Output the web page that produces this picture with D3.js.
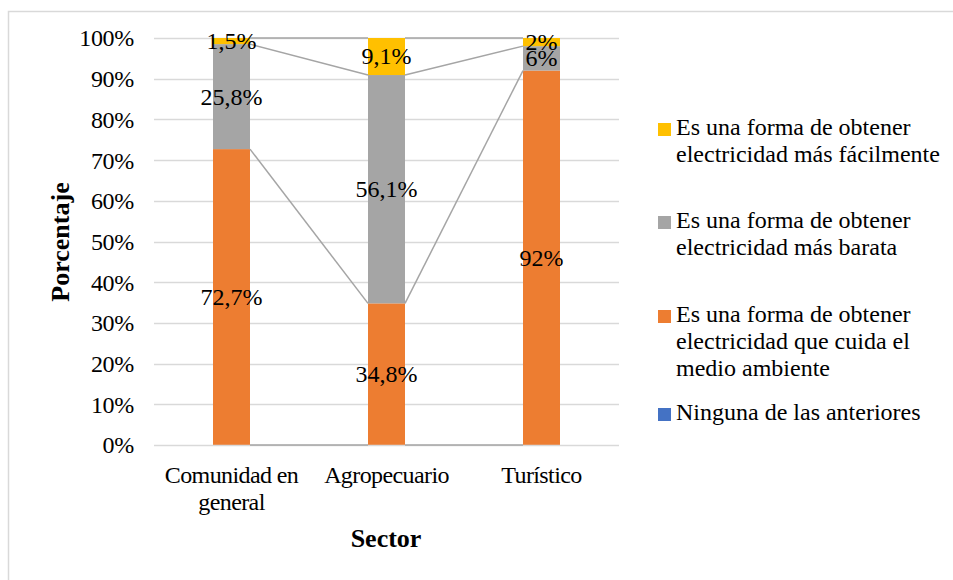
<!DOCTYPE html>
<html>
<head>
<meta charset="utf-8">
<script src="https://cdn.jsdelivr.net/npm/d3@7"></script>
<style>
  html, body { margin: 0; padding: 0; background: #fff; }
</style>
</head>
<body>
<svg id="chart" width="953" height="580"></svg>
<script>
// ---- data ----
const categories = ["Comunidad en general", "Agropecuario", "Turístico"];
const categoryLines = [["Comunidad en", "general"], ["Agropecuario"], ["Turístico"]];
const seriesNames = [
  "Ninguna de las anteriores",
  "Es una forma de obtener electricidad que cuida el medio ambiente",
  "Es una forma de obtener electricidad más barata",
  "Es una forma de obtener electricidad más fácilmente"
];
const legendLines = [
  ["Ninguna de las anteriores"],
  ["Es una forma de obtener", "electricidad que cuida el", "medio ambiente"],
  ["Es una forma de obtener", "electricidad más barata"],
  ["Es una forma de obtener", "electricidad más fácilmente"]
];
const ninguna     = [0, 0, 0];
const medioAmb    = [72.7, 34.8, 92];
const barata      = [25.8, 56.1, 6];
const facilmente  = [1.5, 9.1, 2];
const labelText = [
  [null, null, null],
  ["72,7%", "34,8%", "92%"],
  ["25,8%", "56,1%", "6%"],
  ["1,5%", "9,1%", "2%"]
];
const colors = ["#4472C4", "#ED7D31", "#A5A5A5", "#FFC000"];
const yTicks = [0, 10, 20, 30, 40, 50, 60, 70, 80, 90, 100];

// ---- build table ----
const keys = ["ninguna", "medio", "barata", "facil"];
const table = categories.map((c, i) => ({
  cat: c, ninguna: ninguna[i], medio: medioAmb[i], barata: barata[i], facil: facilmente[i]
}));
const stacked = d3.stack().keys(keys)(table);

const FF = "'Liberation Serif'";
const svg = d3.select("#chart");

// outer chart border
svg.append("rect").attr("x", 8.5).attr("y", 11.5).attr("width", 1000).attr("height", 700)
  .attr("fill", "none").attr("stroke", "#d9d9d9").attr("stroke-width", 1.5);

const x = d3.scaleBand().domain(categories).range([154, 619])
  .paddingInner(1 - 37 / 155).paddingOuter((1 - 37 / 155) / 2);
const y = d3.scaleLinear().domain([0, 100]).range([445, 38]);

const font = 24;

function txt(sel, ls) {
  return sel.style("font-family", FF).style("font-size", font + "px")
    .style("letter-spacing", (ls || 0) + "px").attr("fill", "#000");
}

// gridlines
svg.append("g").selectAll("line").data(yTicks.filter(t => t > 0)).join("line")
  .attr("x1", 154).attr("x2", 619)
  .attr("y1", d => Math.round(y(d)) + 0.5).attr("y2", d => Math.round(y(d)) + 0.5)
  .attr("stroke", "#d9d9d9").attr("stroke-width", 1.3);

// y axis via d3 axis
const yAxis = d3.axisLeft(y).tickValues(yTicks).tickFormat(d => d + "%").tickSize(0).tickPadding(0);
const yg = svg.append("g").attr("transform", "translate(134,0)").call(yAxis);
yg.select(".domain").remove();
yg.attr("font-family", null).attr("font-size", null);
yg.selectAll("text").call(txt, -0.3).attr("dy", "0.33em");

// bars
const groups = svg.append("g").selectAll("g").data(stacked).join("g")
  .attr("fill", (d, i) => colors[i]);
groups.selectAll("rect").data(d => d).join("rect")
  .attr("x", d => x(d.data.cat))
  .attr("width", x.bandwidth())
  .attr("y", d => y(d[1]))
  .attr("height", d => y(d[0]) - y(d[1]));

// x axis baseline
svg.append("line").attr("x1", 154).attr("x2", 619)
  .attr("y1", y(0) + 0.5).attr("y2", y(0) + 0.5)
  .attr("stroke", "#d9d9d9").attr("stroke-width", 1.3);

// series lines (connect tops of each series between adjacent bars)
const sl = svg.append("g").attr("stroke", "#a5a5a5").attr("stroke-width", 1.5).attr("fill", "none");
stacked.forEach(s => {
  for (let i = 0; i < s.length - 1; i++) {
    sl.append("line")
      .attr("x1", x(s[i].data.cat) + x.bandwidth())
      .attr("y1", y(s[i][1]))
      .attr("x2", x(s[i + 1].data.cat))
      .attr("y2", y(s[i + 1][1]));
  }
});

// data labels
stacked.forEach((s, si) => {
  s.forEach((d, i) => {
    const t = labelText[si][i];
    if (!t) return;
    svg.append("text")
      .attr("x", x(d.data.cat) + x.bandwidth() / 2)
      .attr("y", y((d[0] + d[1]) / 2))
      .attr("dy", "0.33em")
      .attr("text-anchor", "middle")
      .call(txt, 0)
      .text(t);
  });
});

// category labels
categories.forEach((c, i) => {
  const t = svg.append("text")
    .attr("x", x(c) + x.bandwidth() / 2)
    .attr("y", 483)
    .attr("text-anchor", "middle")
    .call(txt, -0.6);
  categoryLines[i].forEach((ln, j) => {
    t.append("tspan").attr("x", x(c) + x.bandwidth() / 2).attr("dy", j === 0 ? 0 : 27).text(ln);
  });
});

// axis titles
svg.append("text").attr("x", 386).attr("y", 547).attr("text-anchor", "middle")
  .style("font-family", FF).style("font-size", "26px").style("font-weight", "bold")
  .attr("fill", "#000").text("Sector");
svg.append("text").attr("transform", "translate(69,242) rotate(-90)").attr("text-anchor", "middle")
  .style("font-family", FF).style("font-size", "26px").style("font-weight", "bold")
  .attr("fill", "#000").text("Porcentaje");

// legend (reverse order)
const legendTops = [135, 228, 322, 420];
const order = [3, 2, 1, 0];
order.forEach((si, k) => {
  const base = legendTops[k];
  svg.append("rect").attr("x", 658).attr("y", base - 12).attr("width", 13).attr("height", 13)
    .attr("fill", colors[si]);
  const t = svg.append("text").attr("x", 676).attr("y", base).call(txt, 0);
  legendLines[si].forEach((ln, j) => {
    t.append("tspan").attr("x", 676).attr("dy", j === 0 ? 0 : 27).text(ln);
  });
});
</script>
</body>
</html>
